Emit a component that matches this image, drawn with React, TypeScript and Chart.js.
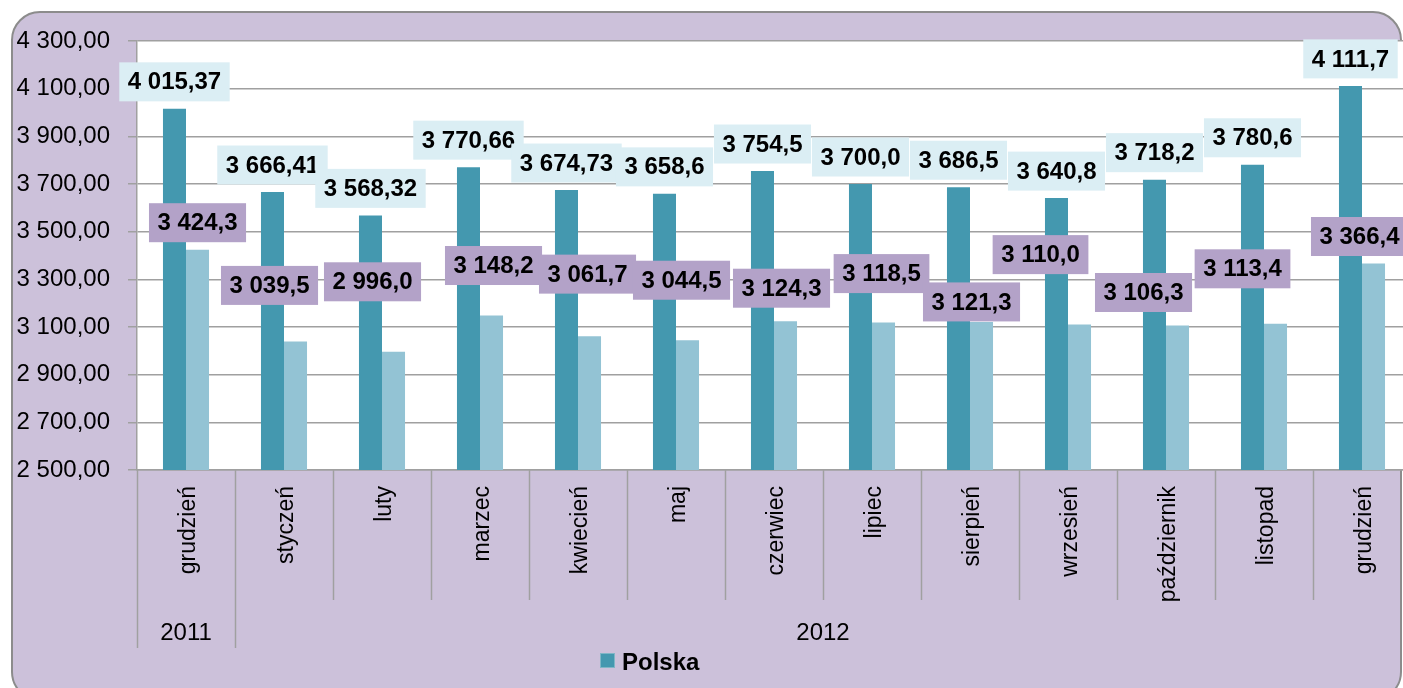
import React, { useEffect, useRef } from "react";
import { Chart, registerables } from "chart.js";

Chart.register(...registerables);

// ---------- data ----------
const categories = [
  "grudzień", "styczeń", "luty", "marzec", "kwiecień", "maj", "czerwiec",
  "lipiec", "sierpień", "wrzesień", "październik", "listopad", "grudzień",
];
const yearLabels = ["2011", "2012"];
const yearStarts = [0, 1];
const yearEnds = [0, 12];

const polskaValues = [
  4015.37, 3666.41, 3568.32, 3770.66, 3674.73, 3658.6, 3754.5, 3700.0,
  3686.5, 3640.8, 3718.2, 3780.6, 4111.7,
];
const polskaDecimals = [2, 2, 2, 2, 2, 1, 1, 1, 1, 1, 1, 1, 1];

const secondValues = [
  3424.3, 3039.5, 2996.0, 3148.2, 3061.7, 3044.5, 3124.3, 3118.5, 3121.3,
  3110.0, 3106.3, 3113.4, 3366.4,
];
const secondDecimals = [1, 1, 1, 1, 1, 1, 1, 1, 1, 1, 1, 1, 1];

const yMin = 2500;
const yMax = 4300;
const yStep = 200;

// ---------- label placement (pixel offsets relative to bar top / centre) ----------
const polskaLabelDy = -27;
const secondLabelDx = [0, -26, -21, 2, -2, -6, -4, -2, -10, -39, -34, -33, -14];
const secondLabelDy = [-27, -56, -70, -50, -62, -60, -33, -49, -20, -70, -33, -55, -27];

// ---------- styles ----------
const DARK = "#4498AF";
const LIGHT = "#93C3D4";
const DARK_LABEL_BG = "#DBEEF4";
const LIGHT_LABEL_BG = "#B3A2C8";
const FRAME_BG = "#CCC1DA";
const FRAME_BORDER = "#8C8C8C";
const GRID = "#A0A0A0";
const FONT = "'Liberation Sans', Arial, sans-serif";

function fmt(v: number, d: number): string {
  const s = v.toFixed(d);
  const [i, f] = s.split(".");
  const ii = i.replace(/\B(?=(\d{3})+(?!\d))/g, " ");
  return f ? ii + "," + f : ii;
}

function drawLabel(ctx: CanvasRenderingContext2D, text: string, cx: number, cy: number, bg: string) {
  ctx.save();
  ctx.font = `bold 24px ${FONT}`;
  const w = ctx.measureText(text).width + 17;
  const h = 39;
  ctx.fillStyle = bg;
  ctx.fillRect(cx - w / 2, cy - h / 2, w, h);
  ctx.fillStyle = "#000";
  ctx.textAlign = "center";
  ctx.textBaseline = "middle";
  ctx.fillText(text, cx, cy + 1);
  ctx.restore();
}

const framePlugin = {
  id: "framePlugin",
  beforeDraw(chart: any) {
    const ctx: CanvasRenderingContext2D = chart.ctx;
    const { left, top, right, bottom } = chart.chartArea;
    ctx.save();
    const x = 12, y = 12, w = 1401 - 12, h = 700 - 12, r = 28;
    ctx.beginPath();
    ctx.moveTo(x + r, y);
    ctx.lineTo(x + w - r, y);
    ctx.arcTo(x + w, y, x + w, y + r, r);
    ctx.lineTo(x + w, y + h - r);
    ctx.arcTo(x + w, y + h, x + w - r, y + h, r);
    ctx.lineTo(x + r, y + h);
    ctx.arcTo(x, y + h, x, y + h - r, r);
    ctx.lineTo(x, y + r);
    ctx.arcTo(x, y, x + r, y, r);
    ctx.closePath();
    ctx.fillStyle = FRAME_BG;
    ctx.fill();
    ctx.lineWidth = 2;
    ctx.strokeStyle = FRAME_BORDER;
    ctx.stroke();
    ctx.fillStyle = "#FFFFFF";
    ctx.fillRect(left, top, right - left, bottom - top);
    ctx.restore();
  },
};

const labelsPlugin = {
  id: "labelsPlugin",
  afterDatasetsDraw(chart: any) {
    const ctx: CanvasRenderingContext2D = chart.ctx;
    const m0 = chart.getDatasetMeta(0);
    const m1 = chart.getDatasetMeta(1);
    m0.data.forEach((bar: any, i: number) => {
      drawLabel(ctx, fmt(polskaValues[i], polskaDecimals[i]), bar.x, bar.y + polskaLabelDy, DARK_LABEL_BG);
    });
    m1.data.forEach((bar: any, i: number) => {
      drawLabel(ctx, fmt(secondValues[i], secondDecimals[i]), bar.x + secondLabelDx[i], bar.y + secondLabelDy[i], LIGHT_LABEL_BG);
    });
  },
  afterDraw(chart: any) {
    const ctx: CanvasRenderingContext2D = chart.ctx;
    const xs = chart.scales.x;
    const { bottom } = chart.chartArea;
    const n = categories.length;
    const half = (xs.getPixelForValue(1) - xs.getPixelForValue(0)) / 2;
    ctx.save();
    ctx.strokeStyle = GRID;
    ctx.lineWidth = 1.5;
    const groupBounds = new Set<number>();
    yearStarts.forEach((s) => groupBounds.add(s));
    groupBounds.add(n);
    for (let i = 0; i <= n; i++) {
      const px = i < n ? xs.getPixelForValue(i) - half : xs.getPixelForValue(n - 1) + half;
      const len = groupBounds.has(i) ? 178 : 130;
      ctx.beginPath();
      ctx.moveTo(Math.round(px) + 0.5, bottom);
      ctx.lineTo(Math.round(px) + 0.5, bottom + len);
      ctx.stroke();
    }
    ctx.fillStyle = "#000";
    ctx.font = `24px ${FONT}`;
    ctx.textAlign = "center";
    ctx.textBaseline = "middle";
    yearLabels.forEach((lab, k) => {
      const a = xs.getPixelForValue(yearStarts[k]) - half;
      const b = xs.getPixelForValue(yearEnds[k]) + half;
      ctx.fillText(lab, (a + b) / 2, bottom + 163);
    });
    // legend
    ctx.fillStyle = DARK;
    ctx.fillRect(600, 653, 15, 15);
    ctx.strokeStyle = "#7fb6c6";
    ctx.lineWidth = 1;
    ctx.strokeRect(600.5, 653.5, 14, 14);
    ctx.fillStyle = "#000";
    ctx.font = `bold 24px ${FONT}`;
    ctx.textAlign = "left";
    ctx.textBaseline = "alphabetic";
    ctx.fillText("Polska", 622, 670);
    ctx.restore();
  },
};

export default function App() {
  const ref = useRef<HTMLCanvasElement | null>(null);
  useEffect(() => {
    if (!ref.current) return;
    const chart = new Chart(ref.current, {
      type: "bar",
      data: {
        labels: categories,
        datasets: [
          {
            label: "Polska",
            data: polskaValues,
            backgroundColor: DARK,
            borderWidth: 0,
            categoryPercentage: 0.47,
            barPercentage: 1,
          },
          {
            label: "Seria 2",
            data: secondValues,
            backgroundColor: LIGHT,
            borderWidth: 0,
            categoryPercentage: 0.47,
            barPercentage: 1,
          },
        ],
      },
      options: {
        responsive: false,
        animation: false,
        layout: { padding: { left: 0, top: 41, right: 9, bottom: 0 } },
        plugins: {
          legend: { display: false },
          tooltip: { enabled: false },
        },
        scales: {
          x: {
            grid: { display: false, drawTicks: false },
            border: { display: true, color: GRID, width: 1.5 },
            ticks: {
              autoSkip: false,
              maxRotation: 90,
              minRotation: 90,
              padding: 16,
              labelOffset: 3,
              color: "#000",
              font: { family: FONT, size: 23 },
            },
            afterFit(scale: any) {
              scale.height = 218;
            },
          },
          y: {
            min: yMin,
            max: yMax,
            ticks: {
              stepSize: yStep,
              padding: 18,
              color: "#000",
              font: { family: FONT, size: 24 },
              callback: (v: any) => fmt(Number(v), 2),
            },
            grid: { color: GRID, lineWidth: 1.5, tickLength: 9 },
            border: { display: true, color: GRID, width: 1.5 },
            afterFit(scale: any) {
              scale.width = 137;
            },
          },
        },
      },
      plugins: [framePlugin, labelsPlugin],
    });
    return () => chart.destroy();
  }, []);
  return (
    <div style={{ position: "fixed", left: 0, top: 0, width: 1403, height: 688, overflow: "hidden" }}>
      <canvas ref={ref} width={1420} height={688} style={{ display: "block" }} />
    </div>
  );
}
